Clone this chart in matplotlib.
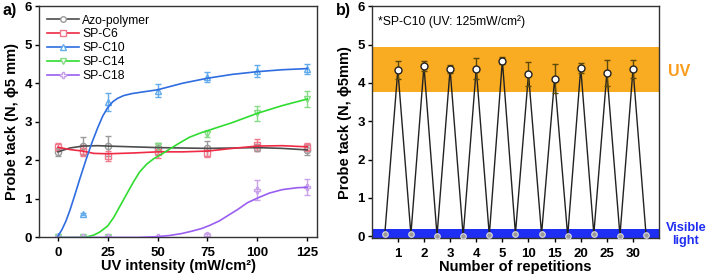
import matplotlib
matplotlib.use('Agg')
import matplotlib.pyplot as plt
from matplotlib.lines import Line2D

plt.rcParams['font.family'] = ['Liberation Sans', 'DejaVu Sans']

# ---- panel a: probe tack vs UV intensity ----
uv = [0, 12.5, 25, 50, 75, 100, 125]

azo = [2.22, 2.37, 2.37, 2.31, 2.31, 2.33, 2.27]
azo_err = [0.1, 0.23, 0.25, 0.15, 0.2, 0.1, 0.12]
c6 = [2.34, 2.25, 2.12, 2.22, 2.2, 2.4, 2.35]
c6_err = [0.1, 0.15, 0.13, 0.15, 0.12, 0.15, 0.1]
c10 = [0.05, 0.6, 3.51, 3.81, 4.16, 4.32, 4.37]
c10_err = [0.03, 0.03, 0.24, 0.17, 0.13, 0.15, 0.14]
c14 = [0.0, 0.0, 0.02, 2.36, 2.68, 3.22, 3.59]
c14_err = [0.02, 0.02, 0.02, 0.1, 0.08, 0.2, 0.2]
c18 = [0.0, 0.0, 0.0, 0.01, 0.07, 1.23, 1.31]
c18_err = [0.01, 0.01, 0.01, 0.02, 0.05, 0.25, 0.2]

# fitted curves
azo_fx = [0, 6, 12.5, 20, 25, 37.5, 50, 62.5, 75, 87.5, 100, 112.5, 125]
azo_fy = [2.22, 2.32, 2.37, 2.38, 2.37, 2.35, 2.33, 2.32, 2.31, 2.32, 2.33, 2.31, 2.27]
c6_fx = [0, 6, 12.5, 18, 25, 37.5, 50, 62.5, 75, 87.5, 100, 112.5, 125]
c6_fy = [2.34, 2.28, 2.24, 2.18, 2.17, 2.19, 2.22, 2.22, 2.24, 2.31, 2.37, 2.38, 2.35]
c10_fx = [0, 2, 4, 6, 8, 11, 14, 17, 20, 22.5, 25, 27.5, 30, 33, 37, 42, 50, 62.5, 75, 87.5, 100, 112.5, 125]
c10_fy = [0.03, 0.2, 0.42, 0.7, 1.02, 1.52, 2.0, 2.45, 2.85, 3.15, 3.37, 3.52, 3.61, 3.68, 3.73, 3.77, 3.83, 4.0, 4.13, 4.23, 4.3, 4.35, 4.38]
c14_fx = [0, 12.5, 15, 18, 21, 25, 28, 31, 34, 38, 41, 44.5, 48, 52, 56, 60, 66, 72, 78, 87.5, 100, 112.5, 125]
c14_fy = [0, 0, 0.02, 0.06, 0.14, 0.3, 0.52, 0.8, 1.08, 1.45, 1.7, 1.9, 2.04, 2.16, 2.29, 2.42, 2.6, 2.72, 2.82, 2.98, 3.22, 3.42, 3.59]
c18_fx = [0, 40, 50, 56, 62, 67, 72, 76, 81, 85, 90, 95, 100, 106, 112.5, 120, 125]
c18_fy = [0, 0, 0.02, 0.05, 0.1, 0.16, 0.23, 0.31, 0.43, 0.56, 0.72, 0.9, 1.02, 1.15, 1.24, 1.29, 1.3]

# ---- panel b: repeated UV / visible cycles ----
reps = ['1', '2', '3', '4', '5', '10', '15', '20', '25', '30']
uv_tack = [4.34, 4.44, 4.36, 4.37, 4.58, 4.23, 4.11, 4.39, 4.26, 4.36]
uv_err = [0.24, 0.13, 0.1, 0.27, 0.1, 0.32, 0.37, 0.12, 0.33, 0.23]
vis_tack = [0.05, 0.05, 0.02, 0.01, 0.03, 0.07, 0.06, 0.01, 0.06, 0.02, 0.03]

fig = plt.figure(figsize=(7.08, 2.79), dpi=100)
ax1 = fig.add_axes([0.055, 0.149, 0.393, 0.829])
ax2 = fig.add_axes([0.525, 0.146, 0.406, 0.832])

series = [
    ('Azo-polymer', azo, azo_err, azo_fx, azo_fy, '#4d4d4d', '#9a9a9a', 'o'),
    ('SP-C6', c6, c6_err, c6_fx, c6_fy, '#ee2a45', '#f07a8c', 's'),
    ('SP-C10', c10, c10_err, c10_fx, c10_fy, '#2f6de0', '#62acec', '^'),
    ('SP-C14', c14, c14_err, c14_fx, c14_fy, '#2fdc2f', '#86dc86', 'v'),
    ('SP-C18', c18, c18_err, c18_fx, c18_fy, '#9a5ef0', '#c9a2ea', 'P'),
]
handles = []
for name, y, e, fx, fy, lc, mc, mk in series:
    ax1.plot(fx, fy, color=lc, lw=1.2, zorder=3)
    ax1.errorbar(uv, y, yerr=e, fmt=mk, ms=4.5, mfc='none', mec=mc, mew=1,
                 ecolor=mc, elinewidth=1, capsize=2.5, capthick=1, zorder=2)
    handles.append(Line2D([], [], color=lc, lw=1.2, marker=mk, ms=4, mfc='white', mec=mc))

ax1.set_xlim(-9.5, 130)
ax1.set_ylim(0, 6)
ax1.set_xticks([0, 25, 50, 75, 100, 125])
ax1.set_yticks(range(7))
ax1.set_xlabel('UV intensity (mW/cm²)', fontsize=10.5, fontweight='bold', labelpad=0)
ax1.set_ylabel('Probe tack (N, ϕ5 mm)', fontsize=10.5, fontweight='bold', labelpad=4)
ax1.legend(handles, [s[0] for s in series], loc='upper left', frameon=False, fontsize=8.7,
           handlelength=2.6, labelspacing=0.15, borderaxespad=0.3, handletextpad=0.3)

# panel b
pos_uv = list(range(1, 11))
pos_vis = [p - 0.5 for p in range(1, 12)]
xs, ys = [], []
for i in range(11):
    xs.append(pos_vis[i]); ys.append(vis_tack[i])
    if i < 10:
        xs.append(pos_uv[i]); ys.append(uv_tack[i])
ax2.axhspan(3.77, 4.94, color='#f9ab22', lw=0, zorder=0)
ax2.axhspan(-0.2, 0.2, color='#1e2ef2', lw=0, zorder=0)
ax2.plot(xs, ys, color='#222222', lw=1, zorder=2)
ax2.errorbar(pos_uv, uv_tack, yerr=uv_err, fmt='none', ecolor='#5c4a0a', elinewidth=1,
             capsize=2.5, capthick=1, zorder=3)
ax2.plot(pos_uv, uv_tack, 'o', ms=5, mfc='white', mec='#222222', mew=1, zorder=4)
ax2.plot(pos_vis, vis_tack, 'o', ms=4, mfc='#9a9a9a', mec='#dddddd', mew=0.8, zorder=4)
ax2.set_xlim(0, 11)
ax2.set_ylim(-0.05, 6)
ax2.set_xticks(pos_uv)
ax2.set_xticklabels(reps)
ax2.set_yticks(range(7))
ax2.set_xlabel('Number of repetitions', fontsize=10.5, fontweight='bold', labelpad=0)
ax2.set_ylabel('Probe tack (N, ϕ5mm)', fontsize=10.5, fontweight='bold', labelpad=4)
ax2.text(0.25, 5.6, '*SP-C10 (UV: 125mW/cm²)', fontsize=8.7, va='center')
ax2.text(11.75, 4.3, 'UV', color='#f99b1a', fontsize=11.5, fontweight='bold', va='center', ha='center')
ax2.text(12.02, 0.05, 'Visible\nlight', color='#1f2ef2', fontsize=9.2, fontweight='bold',
         va='center', ha='center', linespacing=1.15)

for ax in (ax1, ax2):
    ax.tick_params(direction='out', length=3, width=1, labelsize=9.5, pad=2)
    ax.tick_params(axis='x', pad=4)
    for lab in ax.get_xticklabels() + ax.get_yticklabels():
        lab.set_fontweight('bold')
    for sp in ax.spines.values():
        sp.set_color('#333333')
        sp.set_linewidth(1)

fig.text(0.003, 0.945, 'a)', fontsize=11.5, fontweight='bold')
fig.text(0.475, 0.945, 'b)', fontsize=11.5, fontweight='bold')

fig.savefig('out.png', dpi=100)
